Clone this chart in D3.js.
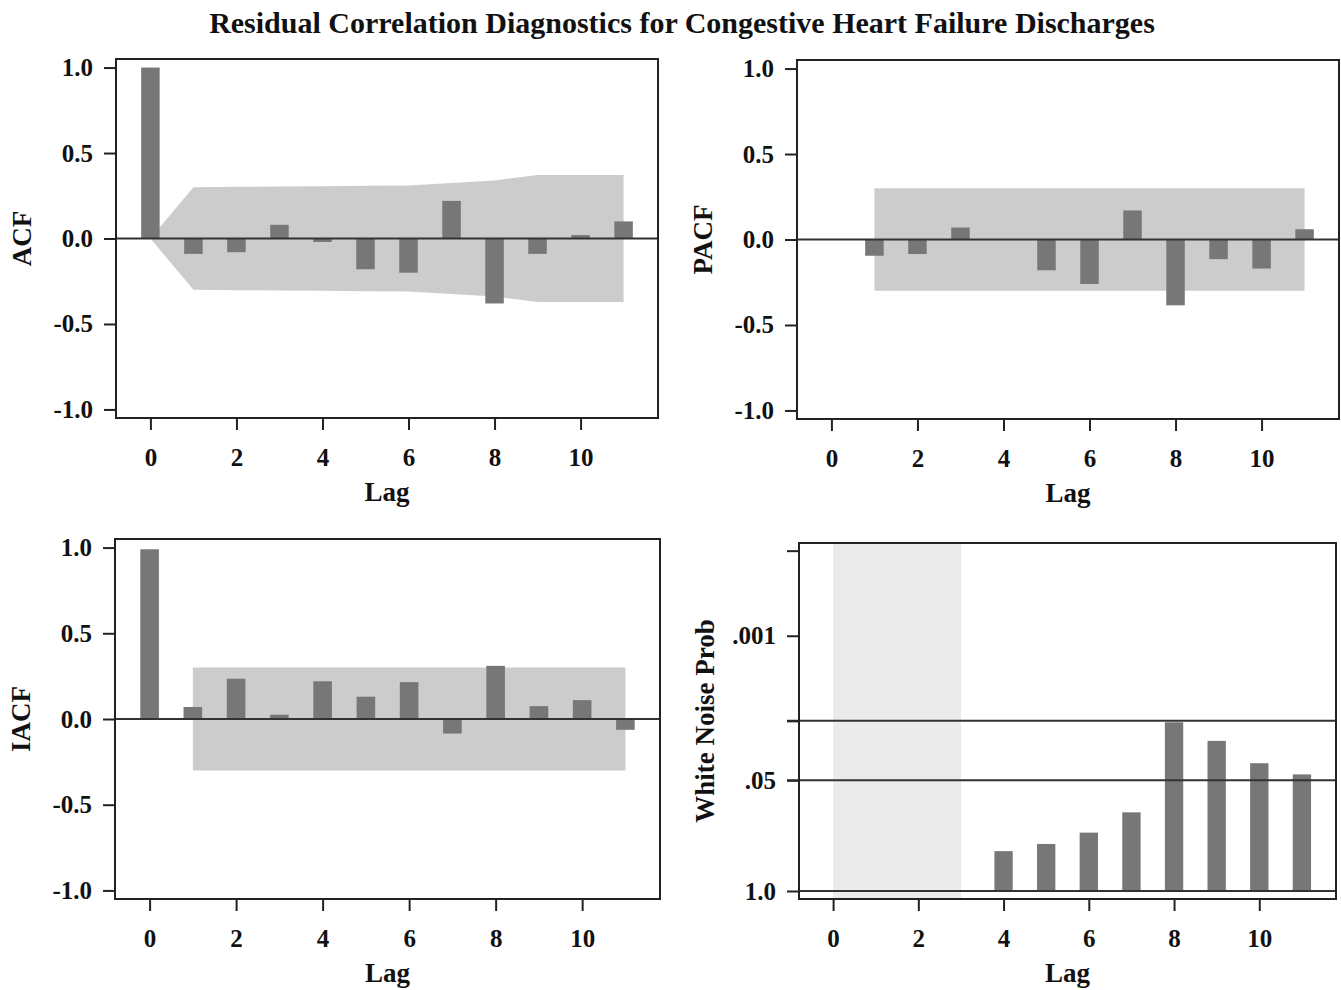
<!DOCTYPE html>
<html>
<head>
<meta charset="utf-8">
<script src="https://cdn.jsdelivr.net/npm/d3@7"></script>
<style>
  html, body { margin: 0; padding: 0; background: #fff; }
  svg { display: block; }
  text { font-family: "Liberation Serif", "Times New Roman", serif; font-weight: bold; fill: #111; }
</style>
</head>
<body>
<svg id="chart" width="1341" height="990"></svg>
<script>
// ---------------- data ----------------
const title = "Residual Correlation Diagnostics for Congestive Heart Failure Discharges";
const lags = [0, 1, 2, 3, 4, 5, 6, 7, 8, 9, 10, 11];
const xTickValues = [0, 2, 4, 6, 8, 10];
const xTickLabels = ["0", "2", "4", "6", "8", "10"];
const corrTickValues = [-1, -0.5, 0, 0.5, 1];
const corrTickLabels = ["-1.0", "-0.5", "0.0", "0.5", "1.0"];

const acfValues  = [1.0, -0.09, -0.08, 0.08, -0.02, -0.18, -0.20, 0.22, -0.38, -0.09, 0.02, 0.10];
const acfBand    = [0.0, 0.30, 0.302, 0.304, 0.306, 0.308, 0.31, 0.325, 0.34, 0.372, 0.372, 0.372];

const pacfLags   = [1, 2, 3, 4, 5, 6, 7, 8, 9, 10, 11];
const pacfValues = [-0.095, -0.085, 0.07, 0.0, -0.18, -0.26, 0.17, -0.385, -0.115, -0.17, 0.06];
const pacfBand   = [0.30, 0.30, 0.30, 0.30, 0.30, 0.30, 0.30, 0.30, 0.30, 0.30, 0.30];

const iacfValues = [0.99, 0.07, 0.235, 0.025, 0.22, 0.13, 0.215, -0.085, 0.31, 0.075, 0.11, -0.063];
const iacfBandLags = [1, 2, 3, 4, 5, 6, 7, 8, 9, 10, 11];
const iacfBand   = [0.30, 0.30, 0.30, 0.30, 0.30, 0.30, 0.30, 0.30, 0.30, 0.30, 0.30];

const wnLags     = [4, 5, 6, 7, 8, 9, 10, 11];
const wnProb     = [0.34, 0.28, 0.206, 0.119, 0.0104, 0.0172, 0.0315, 0.0426];
const wnTickValues = [1.0, 0.05, 0.01, 0.001, 0.0001];
const wnTickLabels = ["1.0", ".05", "", ".001", ""];
const wnRefLines = [0.05, 0.01];
const wnShadeLags = [0, 3];

// ---------------- style ----------------
const BAR = "#777777", BAND = "#cccccc", SHADE = "#ebebeb", INK = "#222";
const svg = d3.select("#chart");

svg.append("text")
  .attr("x", 682).attr("y", 33)
  .attr("text-anchor", "middle")
  .style("font-size", "30px")
  .text(title);

function panel(cfg) {
  const g = svg.append("g");
  const x = d3.scaleLinear().domain([-0.8, 11.8]).range([cfg.L, cfg.R]);
  const y = cfg.y;
  const step = x(1) - x(0);
  const bw = step * 0.43;

  if (cfg.draw) cfg.draw(g, x, y, bw);

  // frame
  g.append("rect")
    .attr("x", cfg.L).attr("y", cfg.T)
    .attr("width", cfg.R - cfg.L).attr("height", cfg.B - cfg.T)
    .attr("fill", "none").attr("stroke", INK).attr("stroke-width", 2);

  // y axis
  const ya = g.append("g").attr("transform", `translate(${cfg.L},0)`)
    .call(d3.axisLeft(y).tickValues(cfg.yTicks)
      .tickFormat((d, i) => cfg.yLabels[i]).tickSize(12).tickPadding(11));
  ya.select(".domain").remove();
  ya.selectAll("line").attr("stroke", INK).attr("stroke-width", 2);
  ya.selectAll("text").style("font-size", "25px").attr("fill", "#111")
    .attr("font-family", null);

  // x axis
  const xa = g.append("g").attr("transform", `translate(0,${cfg.B})`)
    .call(d3.axisBottom(x).tickValues(xTickValues)
      .tickFormat((d, i) => xTickLabels[i]).tickSize(12));
  xa.select(".domain").remove();
  xa.selectAll("line").attr("stroke", INK).attr("stroke-width", 2);
  xa.selectAll("text").style("font-size", "25px").attr("fill", "#111")
    .attr("y", 48).attr("dy", null).attr("font-family", null);

  // labels
  g.append("text")
    .attr("transform", `translate(${cfg.L - 85},${(cfg.T + cfg.B) / 2}) rotate(-90)`)
    .attr("text-anchor", "middle")
    .style("font-size", "27px")
    .text(cfg.yTitle);
  g.append("text")
    .attr("x", (cfg.L + cfg.R) / 2).attr("y", cfg.B + 83)
    .attr("text-anchor", "middle")
    .style("font-size", "27px")
    .text("Lag");
}

function corrDraw(values, valueLags, bandLags, band) {
  return (g, x, y, bw) => {
    const area = d3.area()
      .x((d, i) => x(bandLags[i]))
      .y0((d) => y(-d)).y1((d) => y(d));
    g.append("path").datum(band).attr("d", area).attr("fill", BAND);
    g.selectAll("rect.bar").data(values).join("rect")
      .attr("class", "bar")
      .attr("x", (d, i) => x(valueLags[i]) - bw / 2)
      .attr("width", bw)
      .attr("y", (d) => y(Math.max(0, d)))
      .attr("height", (d) => Math.abs(y(d) - y(0)))
      .attr("fill", BAR);
    g.append("line")
      .attr("x1", x.range()[0]).attr("x2", x.range()[1])
      .attr("y1", y(0)).attr("y2", y(0))
      .attr("stroke", "#333").attr("stroke-width", 2);
  };
}

const corrY = (T, B) => d3.scaleLinear().domain([-1.05, 1.05]).range([B, T]);

// ACF
panel({ L: 116, R: 658, T: 59, B: 418, y: corrY(59, 418),
  yTicks: corrTickValues, yLabels: corrTickLabels, yTitle: "ACF",
  draw: corrDraw(acfValues, lags, lags, acfBand) });

// PACF
panel({ L: 797, R: 1339, T: 60, B: 419, y: corrY(60, 419),
  yTicks: corrTickValues, yLabels: corrTickLabels, yTitle: "PACF",
  draw: corrDraw(pacfValues, pacfLags, pacfLags, pacfBand) });

// IACF
panel({ L: 115, R: 660, T: 539, B: 899, y: corrY(539, 899),
  yTicks: corrTickValues, yLabels: corrTickLabels, yTitle: "IACF",
  draw: corrDraw(iacfValues, lags, iacfBandLags, iacfBand) });

// White noise
const wnY = d3.scaleLog().domain([Math.pow(10, 0.094), Math.pow(10, -4.09)]).range([899, 543]);
panel({ L: 799, R: 1336, T: 543, B: 899, y: wnY,
  yTicks: wnTickValues, yLabels: wnTickLabels, yTitle: "White Noise Prob",
  draw: (g, x, y, bw) => {
    g.append("rect")
      .attr("x", x(wnShadeLags[0])).attr("width", x(wnShadeLags[1]) - x(wnShadeLags[0]))
      .attr("y", 543).attr("height", 899 - 543)
      .attr("fill", SHADE);
    g.selectAll("rect.bar").data(wnProb).join("rect")
      .attr("class", "bar")
      .attr("x", (d, i) => x(wnLags[i]) - bw / 2)
      .attr("width", bw)
      .attr("y", (d) => y(d))
      .attr("height", (d) => y(1) - y(d))
      .attr("fill", BAR);
    g.selectAll("line.ref").data(wnRefLines).join("line")
      .attr("class", "ref")
      .attr("x1", x.range()[0] - 12).attr("x2", x.range()[1])
      .attr("y1", (d) => y(d)).attr("y2", (d) => y(d))
      .attr("stroke", "#333").attr("stroke-width", 2);
    g.append("line")
      .attr("x1", x.range()[0]).attr("x2", x.range()[1])
      .attr("y1", y(1)).attr("y2", y(1))
      .attr("stroke", "#333").attr("stroke-width", 2);
  } });
</script>
</body>
</html>
